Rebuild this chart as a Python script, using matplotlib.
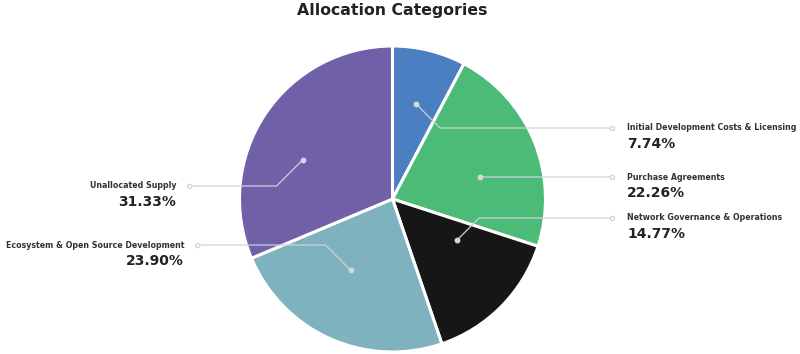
import numpy as np
import matplotlib.pyplot as plt

categories = ['Initial Development Costs & Licensing', 'Purchase Agreements',
              'Network Governance & Operations', 'Ecosystem & Open Source Development',
              'Unallocated Supply']
shares = [7.74, 22.26, 14.77, 23.90, 31.33]
colors = ['#4a7fc1', '#4cbb78', '#161616', '#7fb2bf', '#7060a8']

W, H = 800, 354
cx, cy, R = 392.5, 155, 153

# label layout: row (pixels from top), side, end-circle x, anchor nudges
label_y = [128, 177, 218, 245, 186]
side = [1, 1, 1, -1, -1]
end_x = [612, 612, 612, 197, 189]
dot_r = [0.64, 0.59, 0.5, 0.54, 0.64]
dot_shift = [0, -8, 12, -6, 10]

fig = plt.figure(figsize=(8, 3.54), dpi=100)
ax = fig.add_axes([0, 0, 1, 1])
wedges, _ = ax.pie(shares, colors=colors, startangle=90, counterclock=False,
                   center=(cx, cy), radius=R,
                   wedgeprops=dict(edgecolor='white', linewidth=2.2))
ax.set_xlim(0, W)
ax.set_ylim(0, H)
ax.set_aspect('equal')
ax.axis('off')

line_col = '#cfd0dc'
for i, w in enumerate(wedges):
    ang = np.deg2rad((w.theta1 + w.theta2) / 2 + dot_shift[i])
    dx = cx + dot_r[i] * R * np.cos(ang)
    dy = cy + dot_r[i] * R * np.sin(ang)
    ty = H - label_y[i]
    s = side[i]
    bx = dx + s * abs(dy - ty)
    ex = end_x[i]
    ax.plot([dx, bx, ex], [dy, ty, ty], color=line_col, lw=0.9, zorder=3)
    ax.plot(dx, dy, 'o', ms=3.2, color='#d6d6de', zorder=4)
    ax.plot(ex, ty, 'o', ms=3, mfc='white', mec=line_col, mew=0.9, zorder=4)
    tx = 627 if s > 0 else ex - 13
    ha = 'left' if s > 0 else 'right'
    ax.text(tx, ty, categories[i], ha=ha, va='center', fontsize=5.7,
            fontweight='semibold', color='#333333')
    ax.text(tx, ty - 16, f'{shares[i]:.2f}%', ha=ha, va='center', fontsize=10,
            fontweight='semibold', color='#222222')

ax.text(W / 2 - 8, H - 11, 'Allocation Categories', ha='center', va='center',
        fontsize=11.3, fontweight='bold', color='#222222')

fig.savefig('out.png', dpi=100)
